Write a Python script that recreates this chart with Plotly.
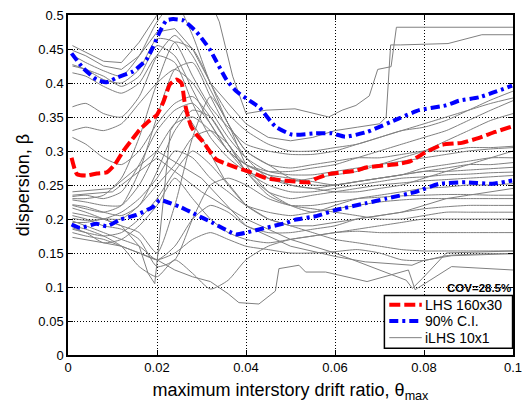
import plotly.graph_objects as go

# ---------------- data ----------------
grid_x = [0.001, 0.004, 0.008, 0.012, 0.016, 0.02, 0.024, 0.028, 0.032, 0.036, 0.04,
          0.045, 0.05, 0.055, 0.06, 0.065, 0.07, 0.075, 0.08, 0.085, 0.09, 0.095, 0.1]

gray_grid_lines = [
    [0.441,0.43,0.418,0.41,0.44,0.49,0.52,0.47,0.40,0.355,0.33,0.31,0.30,0.30,0.305,0.31,0.32,0.33,0.335,0.345,0.36,0.375,0.388],
    [0.427,0.42,0.405,0.40,0.42,0.465,0.46,0.41,0.365,0.335,0.31,0.30,0.295,0.295,0.30,0.31,0.32,0.33,0.34,0.35,0.36,0.37,0.378],
    [0.425,0.42,0.41,0.395,0.41,0.455,0.44,0.39,0.34,0.30,0.28,0.27,0.27,0.275,0.28,0.29,0.30,0.31,0.32,0.33,0.345,0.36,0.374],
    [0.415,0.41,0.395,0.385,0.40,0.44,0.43,0.37,0.32,0.29,0.27,0.26,0.255,0.26,0.265,0.27,0.28,0.29,0.30,0.315,0.33,0.345,0.355],
    [0.365,0.37,0.355,0.35,0.38,0.44,0.47,0.44,0.39,0.34,0.30,0.28,0.275,0.28,0.285,0.29,0.29,0.295,0.30,0.30,0.305,0.305,0.307],
    [0.33,0.335,0.33,0.34,0.37,0.40,0.42,0.40,0.36,0.32,0.29,0.27,0.265,0.265,0.27,0.275,0.28,0.285,0.29,0.295,0.30,0.303,0.305],
    [0.32,0.31,0.29,0.28,0.30,0.34,0.37,0.38,0.35,0.31,0.28,0.265,0.26,0.255,0.25,0.255,0.26,0.265,0.27,0.275,0.28,0.28,0.283],
    [0.233,0.235,0.23,0.24,0.28,0.33,0.36,0.37,0.34,0.30,0.28,0.265,0.25,0.245,0.25,0.255,0.26,0.265,0.27,0.27,0.272,0.274,0.276],
    [0.228,0.225,0.22,0.22,0.25,0.30,0.34,0.35,0.33,0.30,0.27,0.25,0.24,0.24,0.245,0.25,0.255,0.26,0.262,0.265,0.266,0.268,0.269],
    [0.221,0.218,0.21,0.205,0.22,0.27,0.33,0.36,0.35,0.31,0.27,0.24,0.23,0.235,0.24,0.245,0.25,0.253,0.256,0.258,0.26,0.262,0.264],
    [0.216,0.21,0.20,0.19,0.18,0.15,0.22,0.32,0.38,0.34,0.28,0.24,0.22,0.21,0.22,0.23,0.235,0.24,0.245,0.247,0.25,0.25,0.252],
    [0.205,0.2,0.19,0.185,0.17,0.13,0.14,0.2,0.25,0.26,0.25,0.23,0.22,0.22,0.225,0.23,0.232,0.234,0.235,0.236,0.236,0.235,0.235],
    [0.201,0.198,0.2,0.21,0.23,0.26,0.3,0.29,0.26,0.24,0.22,0.21,0.205,0.21,0.215,0.22,0.225,0.228,0.23,0.23,0.23,0.23,0.23],
    [0.197,0.19,0.18,0.17,0.16,0.14,0.16,0.2,0.22,0.21,0.19,0.18,0.18,0.185,0.19,0.2,0.205,0.21,0.215,0.218,0.22,0.22,0.22],
    [0.19,0.185,0.175,0.16,0.13,0.115,0.14,0.12,0.097,0.11,0.14,0.16,0.17,0.175,0.18,0.185,0.19,0.195,0.2,0.2,0.2,0.2,0.2],
    [0.187,0.18,0.165,0.17,0.19,0.22,0.26,0.23,0.2,0.18,0.17,0.165,0.17,0.175,0.18,0.182,0.18,0.18,0.18,0.18,0.18,0.18,0.18],
    [0.185,0.18,0.175,0.18,0.2,0.23,0.27,0.3,0.28,0.25,0.22,0.2,0.19,0.18,0.17,0.165,0.16,0.155,0.153,0.153,0.153,0.153,0.153],
    [0.18,0.175,0.17,0.16,0.15,0.14,0.15,0.17,0.18,0.17,0.16,0.155,0.15,0.15,0.152,0.155,0.15,0.14,0.139,0.146,0.148,0.149,0.149],
    [0.23,0.23,0.235,0.26,0.32,0.40,0.46,0.45,0.40,0.34,0.30,0.28,0.26,0.25,0.25,0.255,0.26,0.265,0.275,0.28,0.285,0.29,0.29],
    [0.22,0.215,0.21,0.22,0.27,0.35,0.42,0.43,0.38,0.33,0.29,0.26,0.25,0.245,0.24,0.24,0.245,0.25,0.26,0.27,0.28,0.29,0.30],
    [0.195,0.195,0.2,0.2,0.22,0.25,0.28,0.32,0.33,0.31,0.27,0.235,0.22,0.215,0.21,0.205,0.2,0.2,0.205,0.21,0.21,0.21,0.21],
]

# gray lines with their own abscissae (sharp steps / dips)
step1_x = [0.001,0.004,0.008,0.012,0.016,0.02,0.024,0.028,0.032,0.034,0.037,0.04,0.0445,0.051,0.0586,0.0616,0.0647,0.0677,0.0696,0.0726,0.0738,0.08,0.09,0.1]
step1_y = [0.455,0.445,0.432,0.43,0.46,0.50,0.54,0.55,0.52,0.49,0.41,0.355,0.36,0.362,0.35,0.36,0.367,0.381,0.42,0.424,0.482,0.482,0.482,0.482]
step2_x = [0.001,0.004,0.008,0.012,0.016,0.02,0.024,0.028,0.032,0.036,0.04,0.045,0.05,0.055,0.06,0.065,0.07,0.0715,0.0725,0.0747,0.0854,0.093,0.1]
step2_y = [0.448,0.44,0.425,0.42,0.44,0.475,0.48,0.45,0.40,0.37,0.34,0.32,0.315,0.32,0.33,0.335,0.34,0.35,0.456,0.456,0.458,0.471,0.471]
dip1_x = [0.001,0.004,0.008,0.012,0.016,0.018,0.0195,0.021,0.023,0.026,0.03,0.035,0.04,0.045,0.05,0.055,0.06,0.065,0.07,0.075,0.08,0.085,0.09,0.095,0.1]
dip1_y = [0.209,0.205,0.2,0.19,0.16,0.12,0.105,0.2,0.33,0.36,0.32,0.26,0.22,0.2,0.19,0.19,0.195,0.2,0.205,0.21,0.22,0.23,0.235,0.24,0.245]
dip2_x = [0.001,0.004,0.008,0.012,0.016,0.02,0.024,0.028,0.032,0.036,0.0384,0.0429,0.0466,0.0474,0.0519,0.0534,0.0579,0.0672,0.0765,0.078,0.0862,0.1]
dip2_y = [0.173,0.17,0.165,0.16,0.15,0.14,0.125,0.115,0.108,0.09,0.077,0.075,0.094,0.127,0.132,0.122,0.122,0.108,0.125,0.096,0.13,0.125]
dip3_x = [0.001,0.01,0.02,0.03,0.04,0.05,0.06,0.0668,0.0773,0.0799,0.0862,0.1]
dip3_y = [0.24,0.245,0.30,0.26,0.19,0.16,0.145,0.137,0.132,0.139,0.146,0.149]
dip4_x = [0.001,0.01,0.02,0.03,0.04,0.05,0.06,0.07,0.076,0.0774,0.0797,0.085,0.1]
dip4_y = [0.235,0.24,0.29,0.24,0.20,0.17,0.15,0.125,0.11,0.098,0.113,0.15,0.153]

lhs_x = [0.0008,0.002,0.0042,0.0065,0.0087,0.0105,0.0124,0.0143,0.0161,0.018,0.0199,0.0214,0.0229,0.0244,0.0255,
         0.0262,0.027,0.0277,0.029,0.0303,0.0318,0.0333,0.0352,0.0377,0.0405,0.0429,0.0446,0.0466,0.0511,0.0541,
         0.0556,0.0586,0.0646,0.0672,0.0743,0.077,0.0795,0.084,0.0885,0.0922,0.096,0.0998]
lhs_y = [0.290,0.266,0.2638,0.267,0.2686,0.28,0.2997,0.316,0.331,0.343,0.3525,0.3717,0.398,0.405,0.40,
         0.372,0.35,0.3357,0.323,0.314,0.30,0.2878,0.282,0.276,0.270,0.264,0.260,0.258,0.255,0.254,
         0.259,0.266,0.271,0.276,0.281,0.285,0.295,0.309,0.312,0.319,0.328,0.336]

ci_up_x = [0.0008,0.0034,0.0064,0.0087,0.0109,0.0146,0.0176,0.0191,0.0206,0.0221,0.0236,0.0259,0.0289,0.0318,
           0.0356,0.0378,0.0401,0.043,0.0466,0.0504,0.0556,0.0593,0.0623,0.0672,0.0744,0.0789,0.0849,0.0879,0.0924,0.0998]
ci_up_y = [0.4436,0.422,0.405,0.401,0.4077,0.417,0.434,0.453,0.475,0.492,0.494,0.492,0.475,0.45,
           0.405,0.388,0.377,0.364,0.336,0.324,0.326,0.326,0.321,0.328,0.348,0.360,0.367,0.374,0.379,0.396]

ci_lo_x = [0.0008,0.0027,0.0064,0.0087,0.0117,0.0154,0.0191,0.0206,0.0221,0.0251,0.0281,0.0326,0.0377,0.04,
           0.0444,0.0489,0.0511,0.0556,0.0601,0.0668,0.0715,0.0782,0.0834,0.0894,0.0954,0.0998]
ci_lo_y = [0.192,0.187,0.193,0.1895,0.199,0.206,0.218,0.2278,0.2254,0.218,0.2086,0.194,0.1774,0.18,
           0.187,0.194,0.199,0.204,0.213,0.223,0.230,0.240,0.2518,0.254,0.2518,0.2566]

x_ticks = [0, 0.02, 0.04, 0.06, 0.08, 0.1]
x_tick_labels = ["0", "0.02", "0.04", "0.06", "0.08", "0.1"]
y_ticks = [0, 0.05, 0.1, 0.15, 0.2, 0.25, 0.3, 0.35, 0.4, 0.45, 0.5]
y_tick_labels = ["0", "0.05", "0.1", "0.15", "0.2", "0.25", "0.3", "0.35", "0.4", "0.45", "0.5"]

legend_labels = ["LHS 160x30", "90% C.I.", "iLHS 10x1"]
cov_text = "COV=28.5%"

# ---------------- styles ----------------
FONT = "Liberation Sans, Arial"
GRAY = "rgb(128,128,128)"
RED_LINE = dict(color="#ff0000", width=4, dash="11px,4px")
BLUE_LINE = dict(color="#0000ff", width=4, dash="9px,4px,3px,4px")
GRAY_LINE = dict(color=GRAY, width=1)

fig = go.Figure()

for ys in gray_grid_lines:
    fig.add_trace(go.Scatter(x=grid_x, y=ys, mode="lines",
                             line=dict(**GRAY_LINE, shape="spline", smoothing=0.6),
                             name=legend_labels[2], showlegend=False, hoverinfo="skip"))

for xs, ys in [(step1_x, step1_y), (step2_x, step2_y), (dip1_x, dip1_y),
               (dip2_x, dip2_y), (dip3_x, dip3_y), (dip4_x, dip4_y)]:
    fig.add_trace(go.Scatter(x=xs, y=ys, mode="lines", line=GRAY_LINE,
                             name=legend_labels[2], showlegend=False, hoverinfo="skip"))

fig.add_trace(go.Scatter(x=lhs_x, y=lhs_y, mode="lines",
                         line=dict(**RED_LINE, shape="spline", smoothing=0.5),
                         name=legend_labels[0], showlegend=False))
fig.add_trace(go.Scatter(x=ci_up_x, y=ci_up_y, mode="lines",
                         line=dict(**BLUE_LINE, shape="spline", smoothing=0.5),
                         name=legend_labels[1], showlegend=False))
fig.add_trace(go.Scatter(x=ci_lo_x, y=ci_lo_y, mode="lines",
                         line=dict(**BLUE_LINE, shape="spline", smoothing=0.5),
                         name=legend_labels[1], showlegend=False))

axis_common = dict(
    showline=True, linecolor="black", linewidth=1.5, mirror="ticks",
    ticks="inside", ticklen=5, tickcolor="black",
    showgrid=True, gridcolor="black", gridwidth=1, griddash="1px,2px",
    zeroline=False, tickfont=dict(family=FONT, size=13, color="black"),
)

fig.update_xaxes(range=[0, 0.1], tickvals=x_ticks, ticktext=x_tick_labels,
                 title=dict(text="maximum interstory drift ratio, θ<sub>max</sub>",
                            font=dict(family=FONT, size=18, color="black"), standoff=9),
                 **axis_common)
fig.update_yaxes(range=[0, 0.5], tickvals=y_ticks, ticktext=y_tick_labels,
                 title=dict(text="dispersion, β",
                            font=dict(family=FONT, size=18, color="black"), standoff=4),
                 **axis_common)

# ---- legend box drawn in paper coordinates ----
box = dict(x0=0.711, x1=0.999, y0=0.02, y1=0.175)
row_y = [0.148, 0.1, 0.051]
sample_x0, sample_x1, text_x = 0.722, 0.795, 0.797

shapes = [dict(type="rect", xref="paper", yref="paper", layer="above",
               fillcolor="white", line=dict(color="black", width=1.5), **box)]
for ry, ln in zip(row_y, [RED_LINE, BLUE_LINE, GRAY_LINE]):
    shapes.append(dict(type="line", xref="paper", yref="paper", layer="above",
                       x0=sample_x0, x1=sample_x1, y0=ry, y1=ry, line=ln))
annotations = [dict(x=text_x, y=ry, xref="paper", yref="paper", xanchor="left", yanchor="middle",
                    text=lbl, showarrow=False, font=dict(family=FONT, size=14, color="black"))
               for ry, lbl in zip(row_y, legend_labels)]
annotations.append(dict(x=1.0, y=0.196, xref="paper", yref="paper", xanchor="right", yanchor="middle",
                        text="<b>" + cov_text + "</b>", showarrow=False,
                        font=dict(family=FONT, size=11.5, color="black")))

fig.update_layout(
    width=530, height=414,
    margin=dict(l=68, r=16, t=8, b=59),
    paper_bgcolor="white", plot_bgcolor="white",
    showlegend=False,
    shapes=shapes, annotations=annotations,
)

fig.write_html("out.html")
